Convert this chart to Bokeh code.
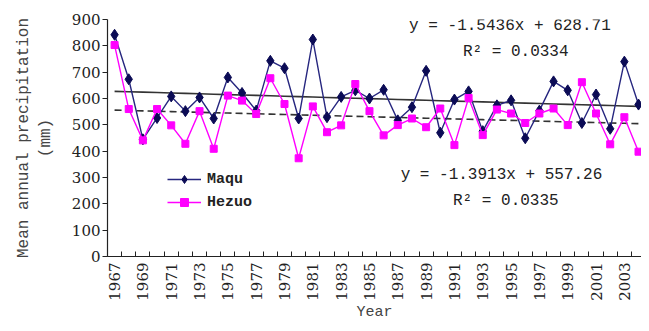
import numpy as np
from bokeh.plotting import figure
from bokeh.models import FixedTicker, Legend, LegendItem, Range1d, Label
from bokeh.embed import file_html
from bokeh.resources import INLINE

years = list(range(1967, 2005))
maqu = [842, 673, 445, 526, 608, 552, 604, 524, 680, 621,
        554, 743, 715, 524, 824, 529, 606, 631, 600, 633,
        517, 567, 705, 470, 596, 627, 476, 574, 593, 449,
        554, 665, 631, 507, 615, 485, 740, 577]
hezuo = [803, 560, 441, 560, 498, 428, 552, 409, 611, 592,
         541, 677, 579, 373, 570, 472, 498, 655, 552, 460,
         499, 524, 491, 562, 423, 602, 461, 558, 543, 507,
         543, 562, 499, 662, 543, 426, 529, 398]
maqu_fit = (-1.5436, 628.71, 0.0334)
hezuo_fit = (-1.3913, 557.26, 0.0335)
y_ticks = [0, 100, 200, 300, 400, 500, 600, 700, 800, 900]
x_label_years = list(range(1967, 2005, 2))

MONO = "Liberation Mono"
SERIF = "DejaVu Serif"

p = figure(width=641, height=323, output_backend="svg", toolbar_location=None,
           x_range=Range1d(1966.5, 2004.21), y_range=Range1d(0, 900),
           min_border_left=107, min_border_right=0, min_border_top=19, min_border_bottom=65)
p.outline_line_color = None
p.grid.visible = False
p.background_fill_color = "white"

idx = np.arange(1, len(years) + 1)
yrs = np.array(years)
mt = maqu_fit[0] * idx + maqu_fit[1]
ht = hezuo_fit[0] * idx + hezuo_fit[1]
p.line(yrs, mt, line_color="#333333", line_width=1.6)
p.line(yrs, ht, line_color="#333333", line_width=1.6, line_dash="7 4")

l1 = p.line(years, maqu, line_color="#26267f", line_width=1.4)
s1 = p.scatter(years, maqu, marker="diamond", size=11, fill_color="#0b0b55", line_color="#0b0b55")
l2 = p.line(years, hezuo, line_color="#ff00ff", line_width=1.4)
s2 = p.scatter(years, hezuo, marker="square", size=7, fill_color="#ff00ff", line_color="#ff00ff")

legend = Legend(items=[LegendItem(label="Maqu", renderers=[l1, s1]),
                       LegendItem(label="Hezuo", renderers=[l2, s2])],
                location=(60, 44), padding=0, margin=0, spacing=3,
                glyph_width=34, glyph_height=20, label_standoff=6,
                border_line_alpha=0, background_fill_alpha=0,
                label_text_font=MONO, label_text_font_size="15px",
                label_text_font_style="bold", label_text_color="#222222")
p.add_layout(legend)

# axes
xa = p.xaxis[0]
xa.ticker = FixedTicker(ticks=x_label_years, minor_ticks=[y + 0.5 for y in range(1966, 2005)])
xa.major_tick_in = 0
xa.major_tick_out = 0
xa.minor_tick_in = 5
xa.minor_tick_out = 0
xa.major_label_orientation = np.pi / 2
xa.major_label_standoff = 6
xa.major_label_text_font = SERIF
xa.major_label_text_font_size = "15px"
xa.major_label_text_color = "#222222"
xa.axis_label = "Year"
xa.axis_label_text_font = MONO
xa.axis_label_text_font_size = "15px"
xa.axis_label_text_font_style = "normal"
xa.axis_label_standoff = 0
xa.axis_line_color = "#222222"
xa.axis_line_width = 1.2
xa.minor_tick_line_color = "#222222"

ya = p.yaxis[0]
ya.ticker = FixedTicker(ticks=y_ticks, minor_ticks=[])
ya.major_tick_in = 0
ya.major_tick_out = 5
ya.major_label_standoff = 2
ya.major_label_text_font = SERIF
ya.major_label_text_font_size = "15px"
ya.major_label_text_color = "#222222"
ya.axis_label = "Mean annual precipitation\n(mm)"
ya.axis_label_text_font = MONO
ya.axis_label_text_font_size = "16px"
ya.axis_label_text_font_style = "normal"
ya.axis_label_standoff = 14
ya.axis_line_color = "#222222"
ya.axis_line_width = 1.2
ya.major_tick_line_color = "#222222"

def eq_text(fit):
    s, b, r2 = fit
    return "y = %.4fx + %.2f" % (s, b)

for txt, x, y in [(eq_text(maqu_fit), 1987.8, 877),
                  ("R\u00b2 = %.4f" % maqu_fit[2], 1991.6, 775),
                  (eq_text(hezuo_fit), 1987.2, 311),
                  ("R\u00b2 = %.4f" % hezuo_fit[2], 1990.9, 209)]:
    p.add_layout(Label(x=x, y=y, text=txt, text_font=MONO, text_font_size="16px",
                       text_baseline="middle", text_align="left", text_color="#222222"))

open("out.html", "w").write(file_html(p, INLINE))
